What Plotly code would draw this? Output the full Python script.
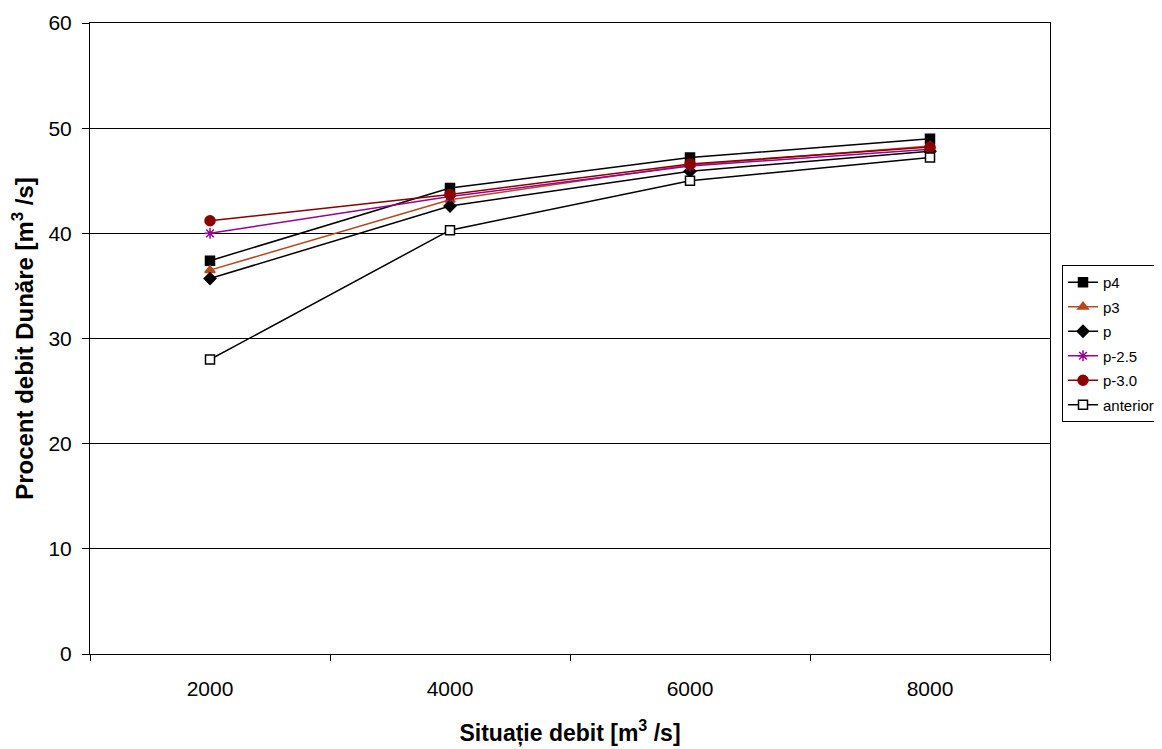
import plotly.graph_objects as go

x_vals = [2000, 4000, 6000, 8000]
series_names = ["p4", "p3", "p", "p-2.5", "p-3.0", "anterior"]
p4 = [37.4, 44.3, 47.2, 49.0]
p3 = [36.5, 43.2, 46.5, 48.3]
p = [35.7, 42.6, 45.9, 47.8]
p_25 = [40.0, 43.5, 46.4, 48.0]
p_30 = [41.2, 43.7, 46.6, 48.2]
anterior = [28.0, 40.3, 45.0, 47.2]
y_ticks = [0, 10, 20, 30, 40, 50, 60]

data = [p4, p3, p, p_25, p_30, anterior]
colors = ["#000000", "#B8471A", "#000000", "#990099", "#8B0000", "#000000"]
symbols = ["square", "triangle-up", "diamond", "asterisk-open", "circle", "square"]
fills = ["#000000", "#B8471A", "#000000", "#990099", "#8B0000", "#FFFFFF"]
sizes = [9, 9, 9, 9, 10, 9]

fig = go.Figure()
for name, ys, c, s, f, sz in zip(series_names, data, colors, symbols, fills, sizes):
    fig.add_trace(go.Scatter(
        x=x_vals, y=ys, name=name, mode="lines+markers", legendgroup=name,
        line=dict(color=c, width=1.5),
        marker=dict(symbol=s, size=sz, color=f, line=dict(color=c, width=1.5)),
    ))

font = "Arial, 'Liberation Sans', sans-serif"
# the page body adds an 8px offset; figure sized to compensate
fig.update_layout(
    width=1154, height=741,
    margin=dict(l=82, r=112, t=15, b=95, autoexpand=False),
    paper_bgcolor="white", plot_bgcolor="white",
    font=dict(family=font, size=21, color="black"),
    showlegend=True,
    legend=dict(x=1.0125, y=0.6165, xanchor="left", yanchor="top",
                bordercolor="black", borderwidth=1, bgcolor="white",
                font=dict(size=15, family=font), tracegroupgap=2,
                itemwidth=30),
    xaxis=dict(
        range=[1000, 9000], tickvals=x_vals, ticktext=[str(v) for v in x_vals],
        ticks="", showgrid=False, zeroline=False, automargin=False,
        showline=True, linecolor="black", linewidth=1, mirror=True,
        minor=dict(tick0=1000, dtick=2000, ticks="outside", ticklen=6,
                   tickcolor="black", showgrid=False),
        title=dict(text="<b>Situație debit [m<sup>3</sup> /s]</b>", font=dict(size=23), standoff=25),
        ticklabelstandoff=16,
    ),
    yaxis=dict(
        range=[0, 60], tickvals=y_ticks, ticks="outside", ticklen=7, tickcolor="black",
        showgrid=True, gridcolor="black", gridwidth=1, zeroline=False, automargin=False,
        showline=True, linecolor="black", linewidth=1, mirror=True,
        ticklabelstandoff=6,
        title=dict(text="<b>Procent debit Dunăre [m<sup>3</sup> /s]</b>", font=dict(size=24), standoff=10),
    ),
)

fig.write_html("out.html")
